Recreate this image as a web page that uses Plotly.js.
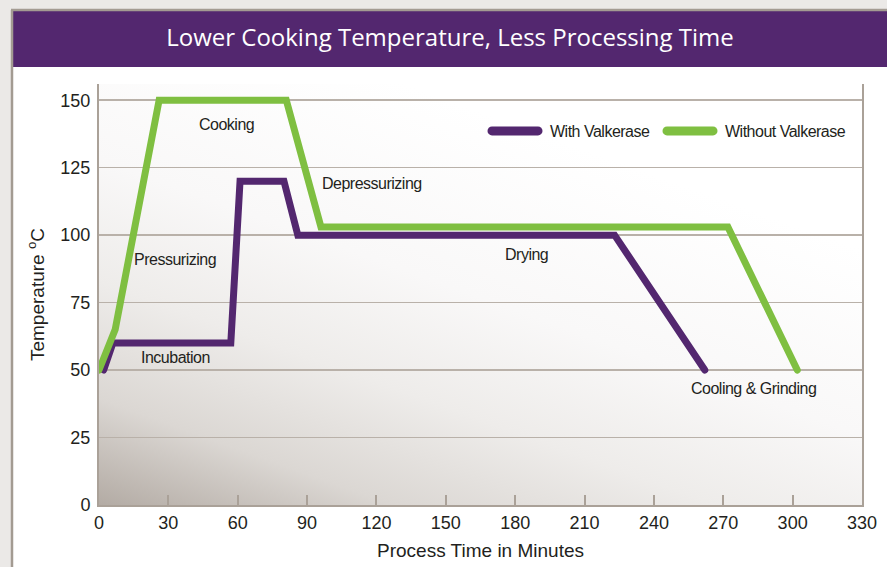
<!DOCTYPE html>
<html>
<head>
<meta charset="utf-8">
<script src="https://cdn.plot.ly/plotly-3.0.1.min.js"></script>
<style>
  html, body { margin: 0; padding: 0; background: #ffffff; }
  #chart { width: 887px; height: 567px; }
  .scatterlayer .js-line { stroke-linecap: round; }
  .legend .js-line { stroke-linecap: round; stroke-width: 9px !important; }
  .annotation-text, .legendtext { letter-spacing: -0.5px; }
  .legendtext { transform: translateX(7px); }
</style>
</head>
<body>
<div id="chart"></div>
<script>
// ---- data ----
const chartTitle = "Lower Cooking Temperature, Less Processing Time";
const seriesNames = ["With Valkerase", "Without Valkerase"];

const withMinutes = [2, 6, 57, 61, 80, 86, 223, 262];
const withTemps   = [50, 60, 60, 120, 120, 100, 100, 50];

const withoutMinutes = [0, 7, 26, 81, 96, 272, 302];
const withoutTemps   = [50, 65, 150, 150, 103, 103, 50];

const xTickValues = [0, 30, 60, 90, 120, 150, 180, 210, 240, 270, 300, 330];
const yTickValues = [0, 25, 50, 75, 100, 125, 150];

const phaseLabels  = ["Cooking", "Depressurizing", "Pressurizing", "Incubation", "Drying", "Cooling &amp; Grinding"];
const phaseMinutes = [55, 118, 33, 33, 185, 283];
const phaseTemps   = [141, 119, 91, 54.5, 93, 43];

// ---- styles ----
const purple = "#53276f";
const green = "#7fbf41";
const narrow = "Liberation Sans Narrow, Arial Narrow, Liberation Sans, Arial, sans-serif";
const regular = "Liberation Sans, Arial, Helvetica, sans-serif";
const ink = "#231f20";
const gridCol = "#b9b1a9";
const axisCol = "#aaa198";

const gradSvg = '<svg xmlns="http://www.w3.org/2000/svg" width="763" height="421" viewBox="0 0 763 421" preserveAspectRatio="none">' +
  '<defs><linearGradient id="g" gradientUnits="userSpaceOnUse" x1="0" y1="421" x2="170" y2="-49">' +
  '<stop offset="0" stop-color="#b3aba4"/><stop offset="0.2" stop-color="#dbd7d3"/>' +
  '<stop offset="0.42" stop-color="#eeecea"/><stop offset="0.65" stop-color="#f9f8f8"/>' +
  '<stop offset="1" stop-color="#ffffff"/></linearGradient></defs>' +
  '<rect x="0" y="0" width="763" height="421" fill="url(#g)"/></svg>';
const gradUri = "data:image/svg+xml;charset=utf-8," + encodeURIComponent(gradSvg);

const traces = [
  {
    x: withMinutes, y: withTemps, name: seriesNames[0],
    type: "scatter", mode: "lines",
    line: { color: purple, width: 7 },
    legendwidth: 114
  },
  {
    x: withoutMinutes, y: withoutTemps, name: seriesNames[1],
    type: "scatter", mode: "lines",
    line: { color: green, width: 7 },
    legendwidth: 135
  }
];

const annotations = phaseLabels.map((t, i) => ({
  text: t, x: phaseMinutes[i], y: phaseTemps[i], xref: "x", yref: "y",
  showarrow: false, xanchor: "center", yanchor: "middle",
  font: { family: narrow, size: 16, color: ink }
}));

// pixel -> paper helpers (plot area: x 99..862, y 84..505)
const px = v => (v - 99) / 763;
const py = v => (505 - v) / 421;

const shapes = [
  { type: "rect", xref: "paper", yref: "paper", x0: px(-5), x1: px(11), y0: py(575), y1: py(-5),
    fillcolor: "#ebe9e7", line: { width: 0 }, layer: "below" },
  { type: "rect", xref: "paper", yref: "paper", x0: px(-5), x1: px(892), y0: py(9), y1: py(-5),
    fillcolor: "#ebe9e7", line: { width: 0 }, layer: "below" },
  { type: "rect", xref: "paper", yref: "paper", x0: px(12), x1: px(892), y0: py(67), y1: py(10),
    fillcolor: purple, line: { width: 0 }, layer: "below" },
  { type: "line", xref: "paper", yref: "paper", x0: px(12), x1: px(12), y0: py(575), y1: py(10),
    line: { color: "#a39b92", width: 2.5 }, layer: "below" },
  { type: "line", xref: "paper", yref: "paper", x0: px(11), x1: px(892), y0: py(10), y1: py(10),
    line: { color: "#a39b92", width: 2.5 }, layer: "below" }
];

const layout = {
  width: 887, height: 567,
  margin: { l: 99, r: 25, t: 84, b: 62, autoexpand: false },
  paper_bgcolor: "#ffffff",
  plot_bgcolor: "rgba(0,0,0,0)",
  title: {
    text: chartTitle,
    x: 450 / 887, xanchor: "center", xref: "container",
    y: 1 - 38 / 567, yanchor: "middle", yref: "container",
    font: { family: "Open Sans, Noto Sans, sans-serif", size: 24, color: "#ffffff" }
  },
  showlegend: true,
  legend: {
    orientation: "h", x: px(487), xanchor: "left", y: py(131), yanchor: "middle",
    bgcolor: "rgba(0,0,0,0)",
    font: { family: narrow, size: 16, color: ink },
    itemwidth: 46
  },
  xaxis: {
    range: [0, 330], tickvals: xTickValues, ticktext: xTickValues.map(String),
    showgrid: false, zeroline: false,
    showline: true, linecolor: axisCol, linewidth: 2,
    ticks: "inside", ticklen: 10, tickwidth: 2, tickcolor: axisCol,
    tickfont: { family: regular, size: 18, color: ink },
    title: { text: "Process Time in Minutes", standoff: 12,
      font: { family: regular, size: 19, color: ink } },
    automargin: false,
    fixedrange: true
  },
  yaxis: {
    range: [0, 156], tickvals: yTickValues, ticktext: yTickValues.map(String),
    showgrid: true, gridcolor: gridCol, gridwidth: 1.5, zeroline: false,
    showline: true, mirror: true, linecolor: axisCol, linewidth: 2,
    ticks: "", ticklabelstandoff: 3,
    tickfont: { family: regular, size: 18, color: ink },
    title: { text: "Temperature <sup>o</sup>C", standoff: 11,
      font: { family: regular, size: 19, color: ink } },
    automargin: false,
    fixedrange: true
  },
  images: [{
    source: gradUri, xref: "paper", yref: "paper", x: 0, y: 1,
    sizex: 1, sizey: 1, xanchor: "left", yanchor: "top",
    sizing: "stretch", layer: "below"
  }],
  shapes: shapes,
  annotations: annotations
};

Plotly.newPlot("chart", traces, layout, { displayModeBar: false, staticPlot: true });
</script>
</body>
</html>
